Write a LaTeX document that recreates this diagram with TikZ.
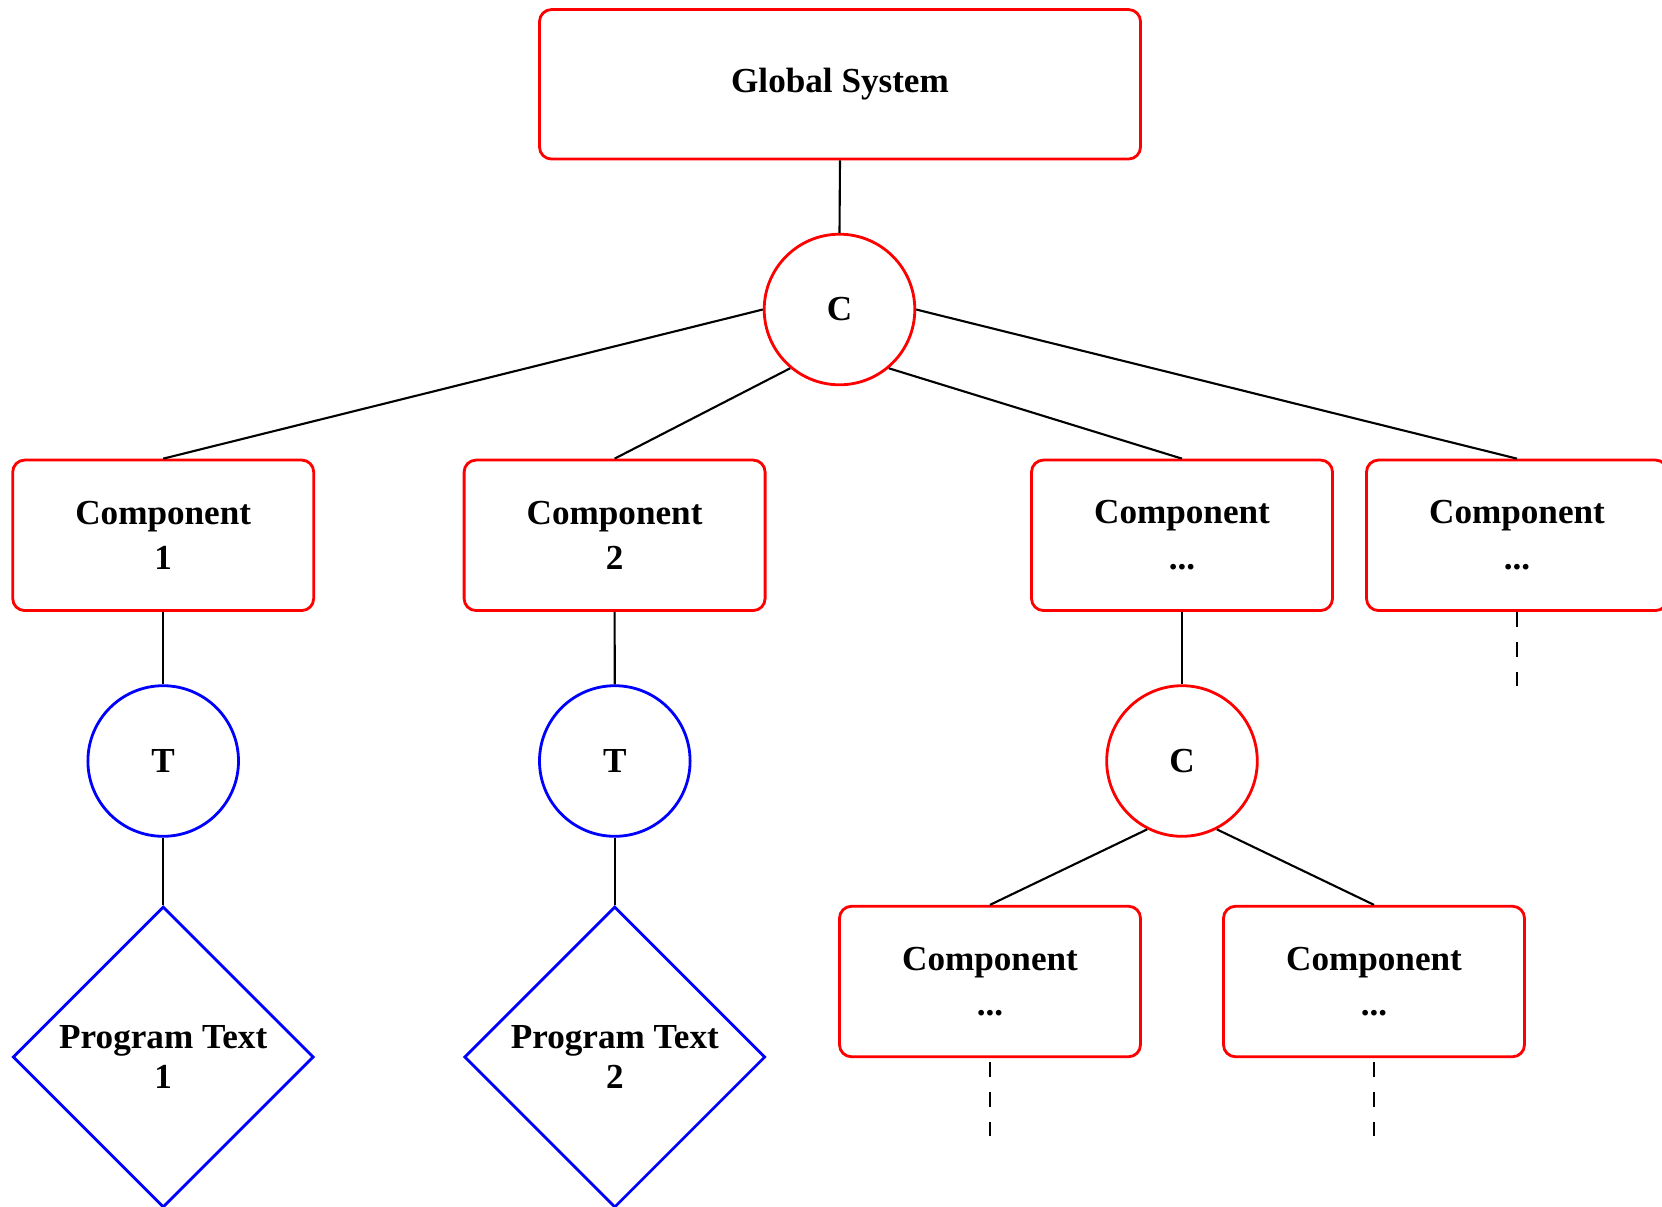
\documentclass[tikz,border=0pt]{standalone}
\usepackage{fontspec}
\setmainfont{Liberation Serif}
\usetikzlibrary{shapes.geometric}

\begin{document}
\begin{tikzpicture}[
  sysbox/.style={draw=red,line width=0.8pt,rounded corners=0.12cm,minimum width=6.01cm,minimum height=1.495cm,inner sep=0pt,font=\bfseries\fontsize{10}{13}\selectfont},
  compbox/.style={draw=red,line width=0.8pt,rounded corners=0.12cm,minimum width=3.01cm,minimum height=1.505cm,inner sep=0pt,align=center,font=\bfseries\fontsize{10}{13}\selectfont},
  compose/.style={circle,draw=red,line width=0.8pt,minimum size=1.506cm,inner sep=0pt,font=\bfseries\fontsize{10}{12}\selectfont},
  trans/.style={circle,draw=blue,line width=0.8pt,minimum size=1.506cm,inner sep=0pt,font=\bfseries\fontsize{10}{12}\selectfont},
  progtext/.style={diamond,draw=blue,line width=0.8pt,minimum size=3.01cm,inner sep=0pt,align=center,font=\bfseries\fontsize{10}{11.4}\selectfont},
  link/.style={draw=black,line width=0.6pt},
  openlink/.style={draw=black,line width=0.6pt,dash pattern=on 0.145cm off 0.155cm}
]
  \useasboundingbox (0,0) rectangle (16.62,-12.06);

  \node[sysbox] (gs) at (8.40,-0.843) {Global System};
  \node[compose] (c1) at (8.395,-3.095) {C};

  \node[compbox] (comp1) at (1.632,-5.353) {Component\\1};
  \node[compbox] (comp2) at (6.146,-5.353) {Component\\2};
  \node[compbox] (comp3) at (11.82,-5.353) {Component\\...};
  \node[compbox] (comp4) at (15.17,-5.353) {Component\\...};

  \node[trans] (t1) at (1.632,-7.61) {T};
  \node[trans] (t2) at (6.148,-7.61) {T};
  \node[compose] (c2) at (11.82,-7.61) {C};

  \node[progtext] (pt1) at (1.632,-10.57) {Program Text\\1};
  \node[progtext] (pt2) at (6.148,-10.57) {Program Text\\2};

  \node[compbox] (comp5) at (9.90,-9.815) {Component\\...};
  \node[compbox] (comp6) at (13.74,-9.815) {Component\\...};

  % open ends
  \coordinate (e4) at (15.17,-6.855);
  \coordinate (e5) at (9.90,-11.355);
  \coordinate (e6) at (13.74,-11.355);

  \draw[link] (gs.south) -- (c1.north);
  \draw[link] (c1.west) -- (comp1.north);
  \draw[link] (c1.230) -- (comp2.north);
  \draw[link] (c1.310) -- (comp3.north);
  \draw[link] (c1.east) -- (comp4.north);

  \draw[link] (comp1.south) -- (t1.north);
  \draw[link] (t1.south) -- (pt1.north);
  \draw[link] (comp2.south) -- (t2.north);
  \draw[link] (t2.south) -- (pt2.north);

  \draw[link] (comp3.south) -- (c2.north);
  \draw[link] (c2.243) -- (comp5.north);
  \draw[link] (c2.297) -- (comp6.north);

  \draw[openlink] ([yshift=-0.005cm]comp4.south) -- (e4);
  \draw[openlink] ([yshift=-0.04cm]comp5.south) -- (e5);
  \draw[openlink] ([yshift=-0.04cm]comp6.south) -- (e6);
\end{tikzpicture}
\end{document}
